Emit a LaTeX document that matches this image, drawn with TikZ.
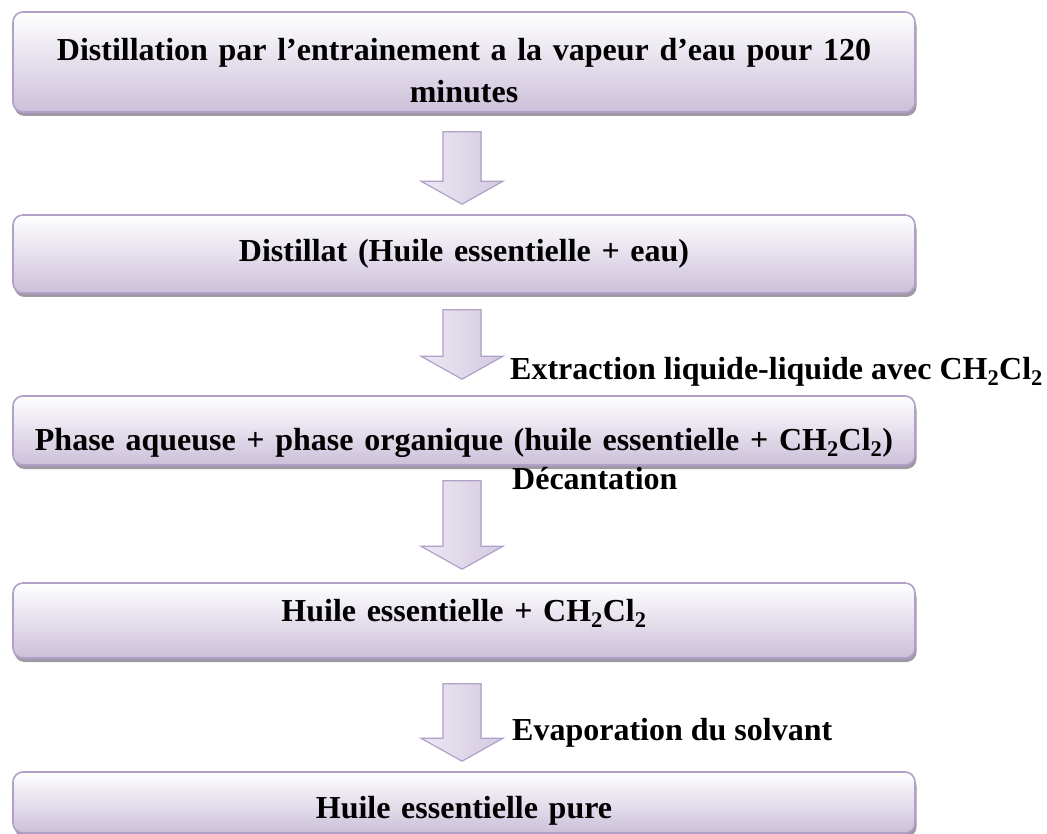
\documentclass[tikz,border=0pt]{standalone}
\usepackage{fontspec}
\setmainfont{Liberation Serif}
\usepackage{tikz}
\usetikzlibrary{calc, shadows}

\definecolor{bord}{RGB}{177,160,199}
\definecolor{lilas}{RGB}{204,192,218}
\definecolor{lilasclair}{RGB}{236,232,243}
\definecolor{ombre}{RGB}{160,152,165}

\tikzset{
  etape/.style={draw=bord, line width=1.6pt, rounded corners=10pt,
    top color=white, bottom color=lilas, minimum width=902pt,
    text width=890pt, align=center, inner sep=0pt,
    font=\fontsize{32}{42}\selectfont\bfseries,
    drop shadow={shadow xshift=1.5pt, shadow yshift=-4pt, fill=ombre, opacity=1}},
  fleche/.style={draw=bord, line width=1.2pt, left color=lilasclair, right color=lilas!85!white},
  legende/.style={anchor=west, inner sep=0pt, font=\fontsize{32}{38}\selectfont\bfseries}
}

% block arrow from the top of its shaft (#1) to its tip (#2)
\newcommand{\fleche}[2]{%
  \filldraw[fleche] ($(#1)+(-19,0)$) -- ($(#1)+(19,0)$) -- ($(#2)+(19,-23)$)
    -- ($(#2)+(41,-23)$) -- (#2) -- ($(#2)+(-41,-23)$) -- ($(#2)+(-19,-23)$) -- cycle;}
% move the text of a step up or down inside its box
\newcommand{\decale}[2]{\raisebox{#1}[\height][\depth]{#2}}

\begin{document}
\begin{tikzpicture}[x=1pt, y=-1pt]
\useasboundingbox (0,0) rectangle (1047,834);

% Steps
\node[etape, minimum height=100pt] (dist) at (464,62)
  {\decale{-11pt}{\begin{tabular}{@{}c@{}}Distillation par l’entrainement a la vapeur d’eau pour 120\\ minutes\end{tabular}}};
\node[etape, minimum height=78pt] (distillat) at (464,254)
  {Distillat (Huile essentielle + eau)};
\node[etape, minimum height=69pt] (phases) at (464,430.5)
  {\decale{-12pt}{Phase aqueuse + phase organique (huile essentielle + CH\textsubscript{2}Cl\textsubscript{2})}};
\node[etape, minimum height=75pt] (huile) at (464,620.5)
  {\decale{7pt}{Huile essentielle + CH\textsubscript{2}Cl\textsubscript{2}}};
\node[etape, minimum height=61pt] (pure) at (464,802.5)
  {\decale{-8pt}{Huile essentielle pure}};

% Arrows between the steps
\coordinate (h1) at ($(dist.south)+(-2,19)$);
\coordinate (p1) at ($(distillat.north)+(-2,-10)$);
\coordinate (h2) at ($(distillat.south)+(-2,16)$);
\coordinate (p2) at ($(phases.north)+(-2,-16)$);
\coordinate (h3) at ($(phases.south)+(-2,15)$);
\coordinate (p3) at ($(huile.north)+(-2,-13)$);
\coordinate (h4) at ($(huile.south)+(-2,25)$);
\coordinate (p4) at ($(pure.north)+(-2,-10)$);
\fleche{h1}{p1}
\fleche{h2}{p2}
\fleche{h3}{p3}
\fleche{h4}{p4}

% Operations
\node[legende] (extr) at (510,372)
  {Extraction liquide-liquide avec CH\textsubscript{2}Cl\textsubscript{2}};
\node[legende] (decant) at (512,479) {Décantation};
\node[legende] (evap) at (512,733) {Evaporation du solvant};

\end{tikzpicture}
\end{document}
